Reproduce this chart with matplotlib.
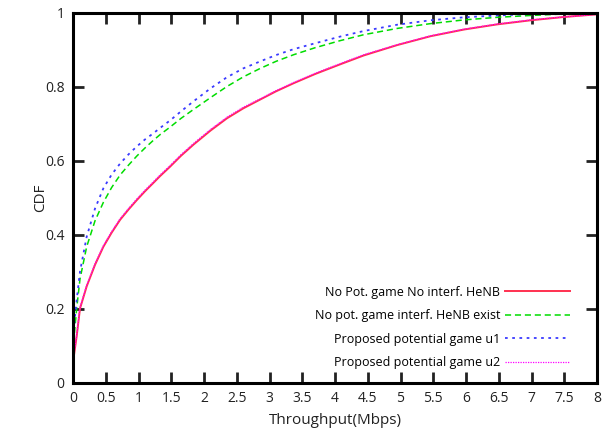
import matplotlib
matplotlib.use("Agg")
import matplotlib.pyplot as plt

plt.rcParams['font.family'] = ['Open Sans', 'DejaVu Sans']

x_pts = [0, 0.02, 0.056, 0.107, 0.209, 0.336, 0.464, 0.59, 0.72, 0.85, 0.974, 1.1, 1.23, 1.33, 1.48, 1.65,
         1.84, 2.1, 2.35, 2.6, 2.86, 3.1, 3.37, 3.7, 4.08, 4.44, 4.95, 5.46, 5.97, 6.48, 6.99, 7.5, 8.0]

y_red = [0.055, 0.08, 0.125, 0.2, 0.26, 0.318, 0.367, 0.405, 0.44, 0.468, 0.493, 0.517, 0.54, 0.558, 0.583, 0.613,
         0.643, 0.681, 0.714, 0.741, 0.765, 0.787, 0.809, 0.834, 0.86, 0.884, 0.912, 0.936, 0.954, 0.968, 0.979, 0.988, 0.995]

y_green = [0.08, 0.13, 0.2, 0.28, 0.367, 0.437, 0.487, 0.527, 0.561, 0.588, 0.612, 0.634, 0.655, 0.67, 0.69, 0.714,
           0.738, 0.77, 0.8, 0.826, 0.849, 0.868, 0.886, 0.905, 0.924, 0.94, 0.957, 0.97, 0.98, 0.987, 0.992, 0.996, 0.999]

y_blue = [0.1, 0.16, 0.223, 0.3, 0.394, 0.47, 0.525, 0.562, 0.592, 0.617, 0.638, 0.657, 0.674, 0.688, 0.708, 0.733,
          0.76, 0.795, 0.825, 0.849, 0.868, 0.885, 0.901, 0.917, 0.935, 0.95, 0.967, 0.979, 0.987, 0.992, 0.996, 0.998, 1.0]

y_mag = [0.057, 0.083, 0.128, 0.203, 0.263, 0.321, 0.37, 0.408, 0.443, 0.471, 0.496, 0.52, 0.543, 0.561, 0.586, 0.616,
         0.646, 0.684, 0.717, 0.744, 0.767, 0.789, 0.811, 0.836, 0.862, 0.886, 0.913, 0.937, 0.955, 0.969, 0.98, 0.988, 0.995]

labels = ["No Pot. game No interf. HeNB", "No pot. game interf. HeNB exist",
          "Proposed potential game u1", "Proposed potential game u2"]
xticks = [0, 0.5, 1, 1.5, 2, 2.5, 3, 3.5, 4, 4.5, 5, 5.5, 6, 6.5, 7, 7.5, 8]
xticklabels = ["0", "0.5", "1", "1.5", "2", "2.5", "3", "3.5", "4", "4.5", "5", "5.5", "6", "6.5", "7", "7.5", "8"]
yticks = [0, 0.2, 0.4, 0.6, 0.8, 1]
yticklabels = ["0", "0.2", "0.4", "0.6", "0.8", "1"]

fig = plt.figure(figsize=(6.1, 4.29), dpi=100)
ax = fig.add_axes([73/610, 1-382.5/429, (597-73)/610, (382.5-12.5)/429])

ax.plot(x_pts, y_red, color='#ff3050', lw=1.4, ls='-', label=labels[0])
ax.plot(x_pts, y_green, color='#00dd00', lw=1.1, ls=(0, (4, 2.5)), label=labels[1])
ax.plot(x_pts, y_blue, color='#3a3aff', lw=1.3, ls=(0, (1.5, 2.5)), label=labels[2])
ax.plot(x_pts, y_mag, color='#ff00ff', lw=0.9, ls=(0, (1, 1)), label=labels[3])

ax.set_xlim(0, 8)
ax.set_ylim(0, 1)
ax.set_xticks(xticks)
ax.set_xticklabels(xticklabels)
ax.set_yticks(yticks)
ax.set_yticklabels(yticklabels)
ax.tick_params(direction='in', length=8, width=2, top=True, right=True,
               labelsize=10, colors='#222222', pad=6)
for s in ax.spines.values():
    s.set_linewidth(2.2)
ax.set_xlabel("Throughput(Mbps)", fontsize=11, color='#222222', labelpad=5)
ax.set_ylabel("CDF", fontsize=11, color='#222222', labelpad=-2)

leg = ax.legend(loc='lower right', bbox_to_anchor=(0.97, 0.005), frameon=False,
                markerfirst=False, fontsize=9, handlelength=5.2, labelspacing=0.85,
                handletextpad=0.4)

fig.savefig("out.png", dpi=100)
